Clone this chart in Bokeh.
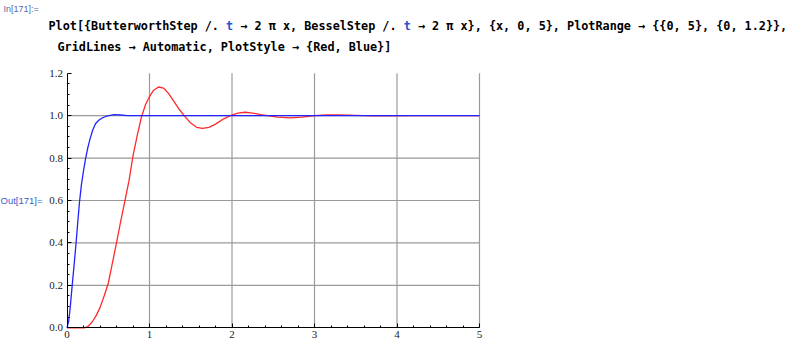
from bokeh.plotting import figure
from bokeh.models import Range1d, FixedTicker, Label, PrintfTickFormatter, LinearAxis
from bokeh.embed import file_html
from bokeh.resources import INLINE

# ---- data ----
red_x = [0.0, 0.21, 0.25, 0.3, 0.35, 0.4, 0.45, 0.5, 0.55, 0.6, 0.65, 0.7, 0.75, 0.8,
         0.85, 0.9, 0.95, 1.0, 1.05, 1.11, 1.17, 1.23, 1.3, 1.36, 1.42, 1.5, 1.57, 1.64, 1.72,
         1.8, 1.9, 1.98, 2.07, 2.16, 2.25, 2.35, 2.43, 2.55, 2.71, 2.85, 3.0, 3.15, 3.3, 3.5,
         3.7, 3.9, 4.2, 5.0]
red_y = [0.0, 0.0, 0.005, 0.025, 0.055, 0.095, 0.15, 0.21, 0.305, 0.40, 0.50, 0.595, 0.69, 0.81,
         0.905, 0.99, 1.05, 1.09, 1.12, 1.135, 1.13, 1.105, 1.065, 1.03, 1.0, 0.965, 0.945, 0.94, 0.945,
         0.96, 0.985, 1.0, 1.012, 1.016, 1.012, 1.005, 1.0, 0.993, 0.989, 0.993, 1.0, 1.003, 1.003, 1.001,
         0.999, 0.999, 1.0, 1.0]

blue_x = [0.0, 0.02, 0.04, 0.063, 0.087, 0.11, 0.131, 0.152, 0.175, 0.2, 0.224, 0.25, 0.277,
          0.31, 0.345, 0.385, 0.427, 0.47, 0.51, 0.57, 0.65, 0.73, 1.0, 5.0]
blue_y = [0.0, 0.03, 0.10, 0.2, 0.3, 0.4, 0.5, 0.595, 0.675, 0.74, 0.795, 0.845, 0.887,
          0.93, 0.962, 0.978, 0.989, 0.996, 1.0, 1.005, 1.003, 1.0, 1.0, 1.0]

x_major = [0, 1, 2, 3, 4, 5]
y_major = [0.0, 0.2, 0.4, 0.6, 0.8, 1.0, 1.2]
x_grid = [1, 2, 3, 4, 5]
y_grid = [0.2, 0.4, 0.6, 0.8, 1.0]
X_MAX, Y_MAX = 5.0, 1.2

in_label = "In[171]:="
out_label = "Out[171]="
code1 = "Plot[{ButterworthStep /. t \u2192 2 \u03c0 x, BesselStep /. t \u2192 2 \u03c0 x}, {x, 0, 5}, PlotRange \u2192 {{0, 5}, {0, 1.2}},"
code2 = "GridLines \u2192 Automatic, PlotStyle \u2192 {Red, Blue}]"

# ---- layout: frame covers whole canvas; data box placed at pixels ----
W, H = 800, 346
BL, BT, BW, BH = 66.5, 72.7, 412.5, 254.6   # data box: left, top, width, height (px)
sx = BW / X_MAX
sy = BH / Y_MAX

x_range = Range1d(-BL / sx, (W - BL) / sx)
y_range = Range1d(-(H - BT - BH) / sy, Y_MAX + BT / sy)

p = figure(width=W, height=H, x_range=x_range, y_range=y_range,
           x_axis_location=None, y_axis_location=None,
           min_border=0, output_backend="svg", toolbar_location=None)
p.outline_line_color = None
p.background_fill_color = "white"
p.border_fill_color = "white"
p.grid.visible = False

minor_x = [i / 5 for i in range(26) if i % 5]
minor_y = [i / 20 for i in range(25) if i % 4]
xaxis = LinearAxis(fixed_location=0, bounds=(0, X_MAX),
                   ticker=FixedTicker(ticks=x_major, minor_ticks=minor_x))
yaxis = LinearAxis(fixed_location=0, bounds=(0, Y_MAX),
                   ticker=FixedTicker(ticks=y_major, minor_ticks=minor_y),
                   formatter=PrintfTickFormatter(format="%.1f"))
for ax in (xaxis, yaxis):
    ax.axis_line_color = "black"
    ax.axis_line_width = 1
    ax.major_tick_line_color = "black"
    ax.minor_tick_line_color = "black"
    ax.major_tick_in = 4
    ax.major_tick_out = 0
    ax.minor_tick_in = 2
    ax.minor_tick_out = 0
    ax.major_label_text_font = "Liberation Serif"
    ax.major_label_text_font_size = "11px"
    ax.major_label_text_color = "#1a1a1a"
xaxis.major_label_standoff = 3
yaxis.major_label_standoff = 4

# grid lines (GridLines -> Automatic)
p.segment(x0=x_grid, y0=[0] * len(x_grid), x1=x_grid, y1=[Y_MAX] * len(x_grid),
          line_color="#9a9a9a", line_width=1.2)
p.segment(x0=[0] * len(y_grid), y0=y_grid, x1=[X_MAX] * len(y_grid), y1=y_grid,
          line_color="#9a9a9a", line_width=1.2)

p.line(red_x, red_y, line_color="#ff2a2a", line_width=1.3)
p.line(blue_x, blue_y, line_color="#2323ff", line_width=1.3)

p.add_layout(xaxis, "below")
p.add_layout(yaxis, "left")


def px2x(cx):
    return (cx - BL) / sx


def px2y(cy):
    return (BT + BH - cy) / sy


def add_text(txt, cx, cy, font, size, color, bold=False):
    p.add_layout(Label(x=px2x(cx), y=px2y(cy), text=txt, text_font=font,
                       text_font_size=size, text_color=color,
                       text_font_style="bold" if bold else "normal",
                       text_baseline="middle", text_align="left"))


MONO = "DejaVu Sans Mono"
FS = 11.8
CW = 0.602 * FS  # advance width of monospace glyphs


def add_code(line, cx, cy):
    # split into runs: the substituted symbol "t" is drawn blue, the rest black
    runs = []
    cur, col = "", "#000000"
    for i, ch in enumerate(line):
        is_t = ch == "t" and line[i - 1:i] == " " and line[i + 1:i + 2] == " "
        c = "#2a4fd0" if is_t else "#000000"
        if c != col and cur:
            runs.append((cur, col))
            cur = ""
        col = c
        cur += ch
    runs.append((cur, col))
    pos = 0
    for txt, c in runs:
        lead = len(txt) - len(txt.lstrip(" "))
        body = txt.strip(" ")
        if body:
            add_text(body, cx + (pos + lead) * CW, cy, MONO, f"{FS}px", c, bold=True)
        pos += len(txt)


add_text(in_label, 3, 8, "Liberation Sans", "9px", "#5a6aa0")
add_text(out_label, 0, 200, "Liberation Sans", "9.5px", "#3d5cc4")
add_code(code1, 48, 25)
add_code(code2, 57, 46)

open("out.html", "w").write(file_html(p, INLINE))
